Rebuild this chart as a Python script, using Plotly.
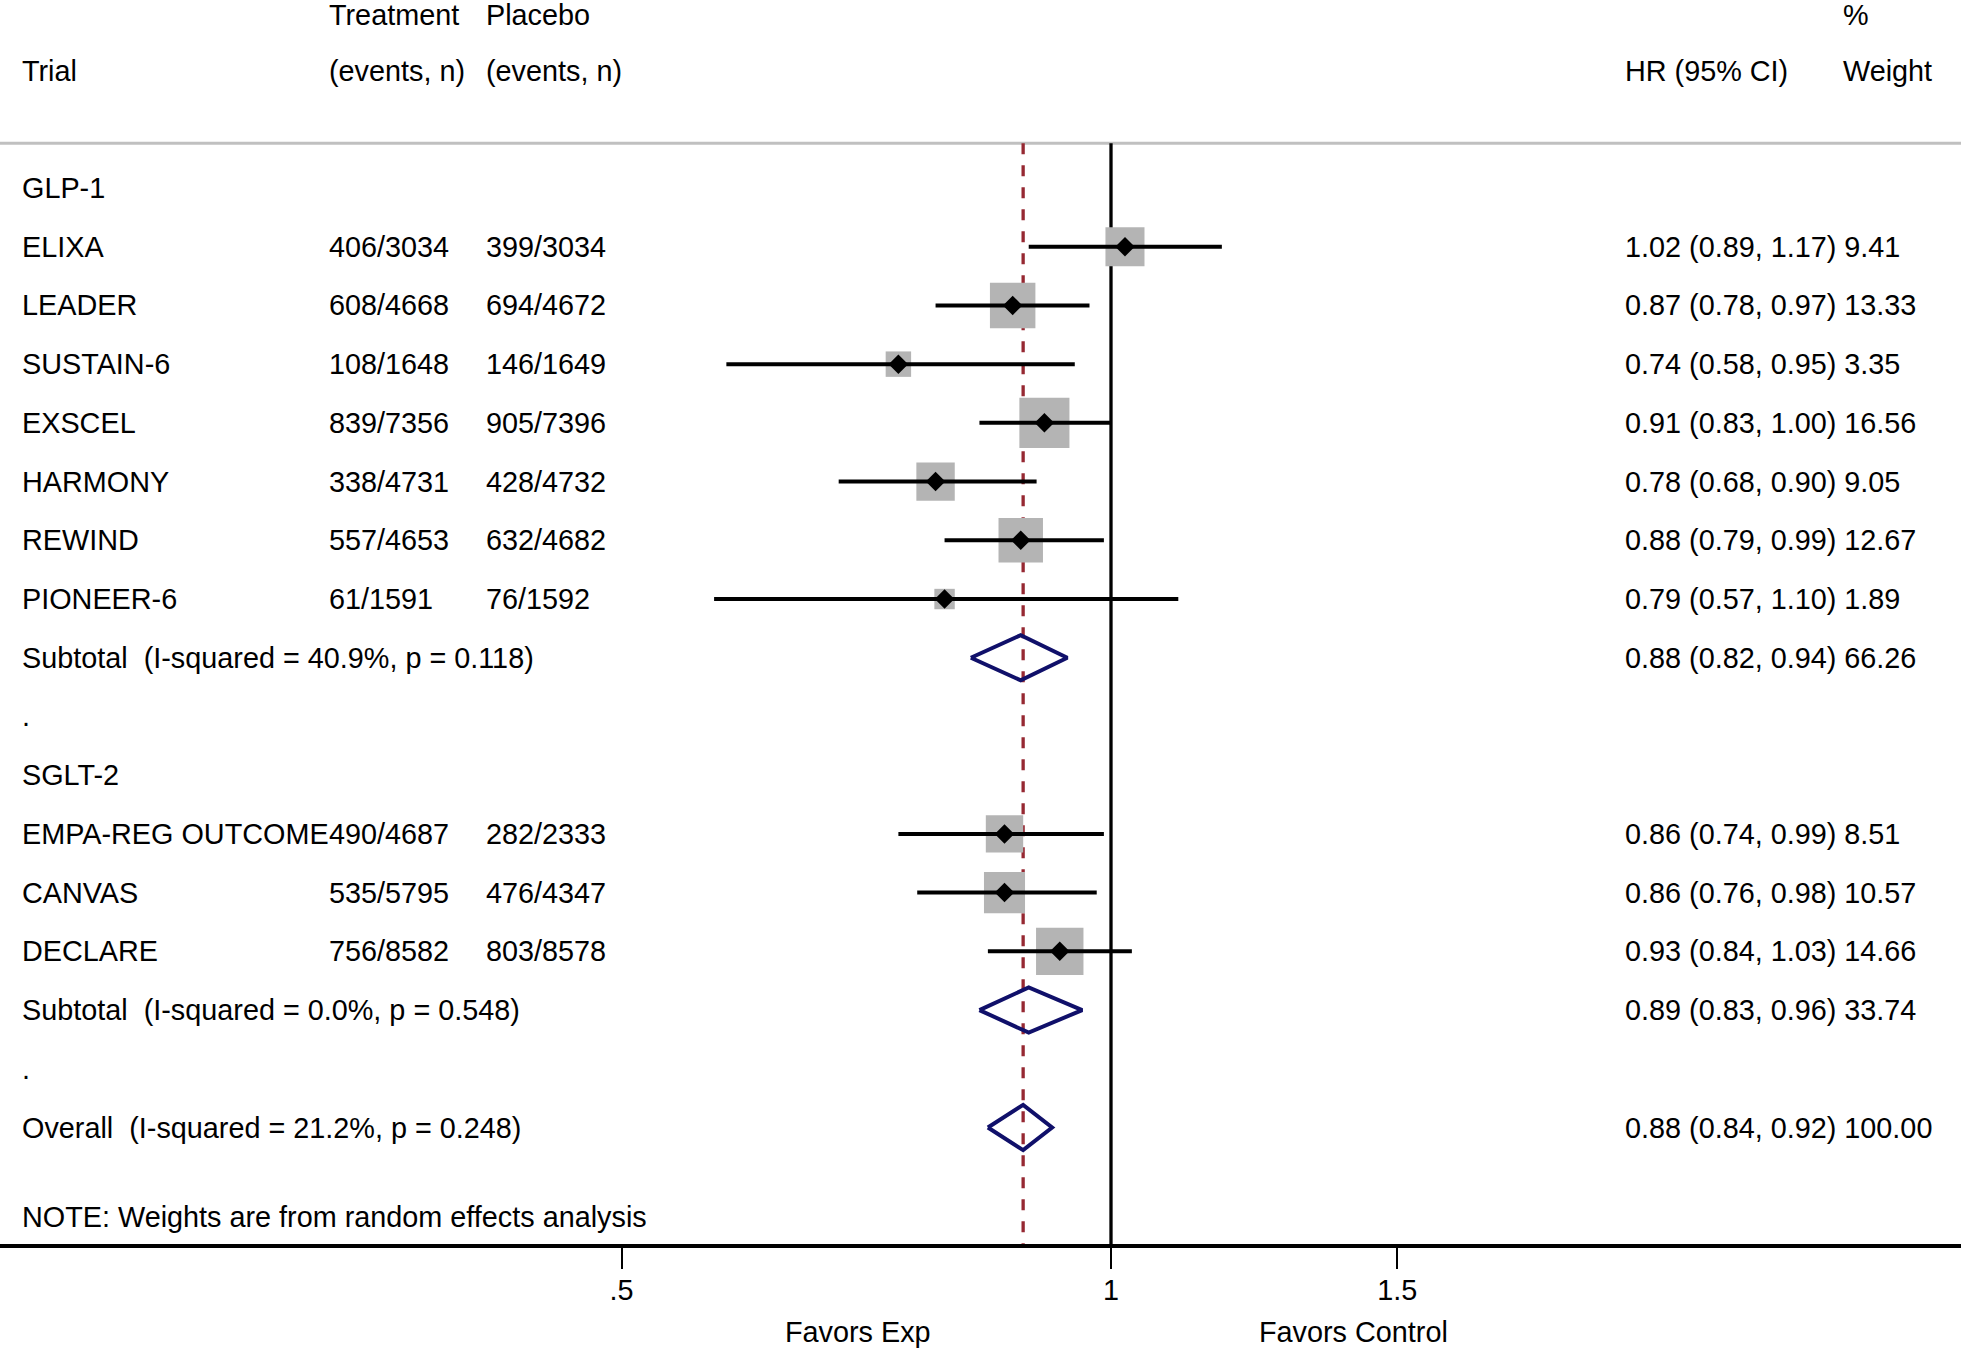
import numpy as np
import plotly.graph_objects as go

# ---------------- data ----------------
groups = ["GLP-1", "SGLT-2"]
trials = ["ELIXA", "LEADER", "SUSTAIN-6", "EXSCEL", "HARMONY", "REWIND", "PIONEER-6",
          "EMPA-REG OUTCOME", "CANVAS", "DECLARE"]
trial_group = ["GLP-1"] * 7 + ["SGLT-2"] * 3
treat_events = ["406/3034", "608/4668", "108/1648", "839/7356", "338/4731", "557/4653", "61/1591",
                "490/4687", "535/5795", "756/8582"]
placebo_events = ["399/3034", "694/4672", "146/1649", "905/7396", "428/4732", "632/4682", "76/1592",
                  "282/2333", "476/4347", "803/8578"]
hr = [1.02, 0.87, 0.74, 0.91, 0.78, 0.88, 0.79, 0.86, 0.86, 0.93]
ci_low = [0.89, 0.78, 0.58, 0.83, 0.68, 0.79, 0.57, 0.74, 0.76, 0.84]
ci_high = [1.17, 0.97, 0.95, 1.00, 0.90, 0.99, 1.10, 0.99, 0.98, 1.03]
weight = [9.41, 13.33, 3.35, 16.56, 9.05, 12.67, 1.89, 8.51, 10.57, 14.66]

sub_i2 = [40.9, 0.0]
sub_p = [0.118, 0.548]
sub_hr = [0.88, 0.89]
sub_low = [0.82, 0.83]
sub_high = [0.94, 0.96]
sub_weight = [66.26, 33.74]

overall_i2 = 21.2
overall_p = 0.248
overall_hr = 0.883
overall_low = 0.84
overall_high = 0.92
overall_weight = 100.00

tick_vals = [0.5, 1, 1.5]
tick_text = [".5", "1", "1.5"]
note_text = "NOTE: Weights are from random effects analysis"
favors_left = "Favors Exp"
favors_right = "Favors Control"

# ---------------- layout constants ----------------
W, H = 1961, 1349
FONT = "Liberation Sans, Arial, Helvetica, sans-serif"
FS = 28.8
GRAY_SQ = "#b4b4b4"
NAVY = "#10106a"
RED = "rgb(150,40,50)"

def px(x):
    return x / W

# row layout
row_items = []
r = 0
trial_rows = []
sub_rows = []
for gi, g in enumerate(groups):
    row_items.append((r, "header", g)); r += 1
    for ti, t in enumerate(trials):
        if trial_group[ti] == g:
            trial_rows.append(r); r += 1
    sub_rows.append(r); r += 1
    row_items.append((r, "dot", ".")); r += 1
overall_row = r

top_rule_row = -0.76
y_top, y_bottom = -3.2016, 17.984

fig = go.Figure()

# reference lines
fig.add_trace(go.Scatter(x=[1, 1], y=[top_rule_row, y_bottom], mode="lines",
                         line=dict(color="black", width=3.3), hoverinfo="skip"))
fig.add_trace(go.Scatter(x=[overall_hr, overall_hr], y=[top_rule_row, y_bottom], mode="lines",
                         line=dict(color=RED, width=3.3, dash="11px,11px"), hoverinfo="skip"))

# weight squares
sizes = [5.3 + 11.0 * np.sqrt(w) for w in weight]
fig.add_trace(go.Scatter(x=hr, y=trial_rows, mode="markers",
                         marker=dict(symbol="square", size=sizes, color=GRAY_SQ, opacity=1,
                                     line=dict(width=0)),
                         hoverinfo="skip"))

# CI whiskers
wx, wy = [], []
for lo_, hi_, rr in zip(ci_low, ci_high, trial_rows):
    wx += [lo_, hi_, None]
    wy += [rr, rr, None]
fig.add_trace(go.Scatter(x=wx, y=wy, mode="lines", line=dict(color="black", width=4),
                         hoverinfo="skip"))

# point estimates
fig.add_trace(go.Scatter(x=hr, y=trial_rows, mode="markers",
                         marker=dict(symbol="diamond", size=15, color="black", opacity=1,
                                     line=dict(width=0)),
                         hoverinfo="skip"))

# summary diamonds
hh = 0.385
dx, dy = [], []
for e, lo_, hi_, rr in zip(sub_hr + [overall_hr], sub_low + [overall_low],
                           sub_high + [overall_high], sub_rows + [overall_row]):
    dx += [lo_, e, hi_, e, lo_, None]
    dy += [rr, rr - hh, rr, rr + hh, rr, None]
fig.add_trace(go.Scatter(x=dx, y=dy, mode="lines", line=dict(color=NAVY, width=4),
                         hoverinfo="skip"))

# ---------------- text ----------------
anns = []

def txt(x_px, row, s, anchor="left"):
    anns.append(dict(x=px(x_px), xref="paper", y=row, yref="y", text=s, showarrow=False,
                     xanchor=anchor, yanchor="middle", borderpad=0, borderwidth=0,
                     font=dict(family=FONT, size=FS, color="black")))

C_TRIAL, C_TREAT, C_PLAC, C_HR, C_W = 22, 328.5, 486, 1624.5, 1843

# headers
txt(C_TREAT, -2.95, "Treatment")
txt(C_PLAC, -2.95, "Placebo")
txt(C_W, -2.95, "%")
txt(C_TRIAL, -2, "Trial")
txt(C_TREAT, -2, "(events, n)")
txt(C_PLAC, -2, "(events, n)")
txt(C_HR, -2, "HR (95% CI)")
txt(C_W, -2, "Weight")

for rr, kind, s in row_items:
    txt(C_TRIAL, rr, s)

for i, rr in enumerate(trial_rows):
    txt(C_TRIAL, rr, trials[i])
    txt(C_TREAT, rr, treat_events[i])
    txt(C_PLAC, rr, placebo_events[i])
    txt(C_HR, rr, f"{hr[i]:.2f} ({ci_low[i]:.2f}, {ci_high[i]:.2f}) {weight[i]:.2f}")

for i, rr in enumerate(sub_rows):
    txt(C_TRIAL, rr, f"Subtotal\u00a0 (I-squared = {sub_i2[i]:.1f}%, p = {sub_p[i]:.3f})")
    txt(C_HR, rr, f"{sub_hr[i]:.2f} ({sub_low[i]:.2f}, {sub_high[i]:.2f}) {sub_weight[i]:.2f}")

txt(C_TRIAL, overall_row, f"Overall\u00a0 (I-squared = {overall_i2:.1f}%, p = {overall_p:.3f})")
txt(C_HR, overall_row, f"{overall_hr:.2f} ({overall_low:.2f}, {overall_high:.2f}) {overall_weight:.2f}")

txt(C_TRIAL, 17.53, note_text)

for s, xp in [(favors_left, 858), (favors_right, 1353)]:
    anns.append(dict(x=px(xp), xref="paper", y=-0.0707, yref="paper", text=s, showarrow=False,
                     xanchor="center", yanchor="middle", borderpad=0, borderwidth=0,
                     font=dict(family=FONT, size=FS, color="black")))

# ---------------- layout ----------------
PX_PER_LN = 706.1
X1_PX = 1111.0
xr = [(-X1_PX / PX_PER_LN) / np.log(10), ((W - X1_PX) / PX_PER_LN) / np.log(10)]

fig.update_layout(
    width=W, height=H,
    margin=dict(l=0, r=0, t=0, b=105, pad=0),
    paper_bgcolor="white", plot_bgcolor="white",
    showlegend=False,
    font=dict(family=FONT, size=FS, color="black"),
    annotations=anns,
    shapes=[dict(type="line", xref="paper", x0=0, x1=1, yref="y", y0=top_rule_row, y1=top_rule_row,
                 line=dict(color="#c0c0c0", width=3), layer="below")],
    xaxis=dict(type="log", range=xr, tickvals=tick_vals, ticktext=tick_text,
               showgrid=False, zeroline=False, showline=True, linecolor="black", linewidth=3.5,
               ticks="outside", ticklen=21, tickwidth=1.5, tickcolor="black",
               ticklabelstandoff=-3,
               tickfont=dict(family=FONT, size=FS, color="black"), automargin=False),
    yaxis=dict(range=[y_bottom, y_top], visible=False, showgrid=False, zeroline=False,
               automargin=False),
)

fig.write_html("out.html", config={"displayModeBar": False},
               post_script="document.body.style.margin='0';document.body.style.overflow='hidden';")
